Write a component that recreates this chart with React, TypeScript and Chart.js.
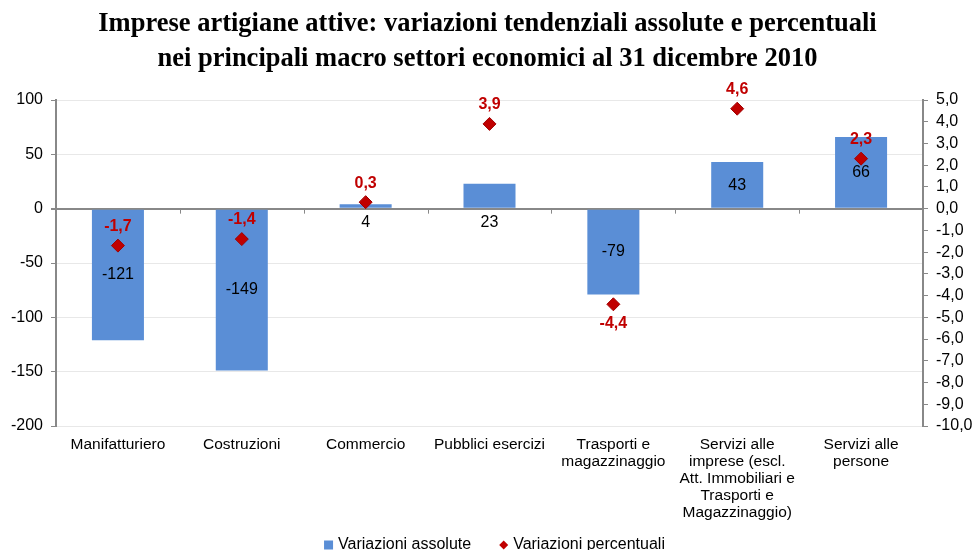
import React, { useEffect, useRef } from "react";
import { Chart, registerables } from "chart.js";

Chart.register(...registerables);

const titleLines = [
  "Imprese artigiane attive: variazioni tendenziali assolute e percentuali",
  "nei principali macro settori economici al 31 dicembre 2010",
];
const categories: string[][] = [
  ["Manifatturiero"],
  ["Costruzioni"],
  ["Commercio"],
  ["Pubblici esercizi"],
  ["Trasporti e", "magazzinaggio"],
  ["Servizi alle", "imprese (escl.", "Att. Immobiliari e", "Trasporti e", "Magazzinaggio)"],
  ["Servizi alle", "persone"],
];
const absoluteValues = [-121, -149, 4, 23, -79, 43, 66];
const percentValues = [-1.7, -1.4, 0.3, 3.9, -4.4, 4.6, 2.3];
const seriesNames = ["Variazioni assolute", "Variazioni percentuali"];

const BLUE = "#5A8ED6";
const RED = "#C00000";
const SANS = "'Liberation Sans', Arial, sans-serif";
const fmt = (v: number) => v.toFixed(1).replace(".", ",");

const labelPlugin = {
  id: "labels",
  afterDatasetsDraw(chart: any) {
    const ctx = chart.ctx;
    const y = chart.scales.y;
    const zero = y.getPixelForValue(0);
    const area = chart.chartArea;
    ctx.save();
    // category tick marks on zero line
    ctx.strokeStyle = "#888";
    ctx.lineWidth = 1;
    const n = categories.length;
    const step = (area.right - area.left) / n;
    for (let i = 1; i < n; i++) {
      const px = Math.round(area.left + step * i) + 0.5;
      ctx.beginPath();
      ctx.moveTo(px, zero);
      ctx.lineTo(px, zero + 5);
      ctx.stroke();
    }
    // bar labels
    const barMeta = chart.getDatasetMeta(0);
    ctx.font = "16px " + SANS;
    ctx.fillStyle = "#000";
    ctx.textAlign = "center";
    ctx.textBaseline = "middle";
    barMeta.data.forEach((bar: any, i: number) => {
      const v = absoluteValues[i];
      const py = Math.abs(v) < 30 ? zero + 14 : (bar.y + zero) / 2;
      ctx.fillText(String(v), bar.x, py);
    });
    // percent labels
    const ptMeta = chart.getDatasetMeta(1);
    ctx.font = "bold 16px " + SANS;
    ctx.fillStyle = RED;
    ptMeta.data.forEach((pt: any, i: number) => {
      const v = percentValues[i];
      const py = v < -3 ? pt.y + 19 : pt.y - 19;
      ctx.fillText(fmt(v), pt.x, py);
    });
    // legend
    ctx.font = "16px " + SANS;
    ctx.textAlign = "left";
    const w1 = ctx.measureText(seriesNames[0]).width;
    const w2 = ctx.measureText(seriesNames[1]).width;
    const box = 9, gap = 5, sep = 28;
    const total = box + gap + w1 + sep + box + gap + w2;
    let lx = (chart.width - total) / 2 + 7;
    const ly = chart.height - 5;
    ctx.fillStyle = BLUE;
    ctx.fillRect(lx, ly - box / 2, box, box);
    lx += box + gap;
    ctx.fillStyle = "#000";
    ctx.fillText(seriesNames[0], lx, ly);
    lx += w1 + sep;
    ctx.fillStyle = RED;
    ctx.beginPath();
    ctx.moveTo(lx + box / 2, ly - box / 2);
    ctx.lineTo(lx + box, ly);
    ctx.lineTo(lx + box / 2, ly + box / 2);
    ctx.lineTo(lx, ly);
    ctx.closePath();
    ctx.fill();
    lx += box + gap;
    ctx.fillStyle = "#000";
    ctx.fillText(seriesNames[1], lx, ly);
    ctx.restore();
  },
};

export default function App() {
  const ref = useRef<HTMLCanvasElement>(null);
  useEffect(() => {
    document.body.style.margin = "0";
    const chart = new Chart(ref.current!, {
      type: "bar",
      data: {
        labels: categories as any,
        datasets: [
          {
            type: "bar",
            label: seriesNames[0],
            data: absoluteValues,
            backgroundColor: BLUE,
            yAxisID: "y",
            barPercentage: 0.84,
            categoryPercentage: 0.5,
            order: 2,
          },
          {
            type: "line",
            label: seriesNames[1],
            data: percentValues,
            yAxisID: "y1",
            showLine: false,
            pointStyle: "rectRot",
            pointRadius: 6.5,
            backgroundColor: RED,
            borderColor: "#A00000",
            borderWidth: 1,
            order: 1,
          } as any,
        ],
      },
      options: {
        animation: false,
        responsive: false,
        layout: { padding: { left: 0, right: 0, top: 0, bottom: 0 } },
        plugins: {
          title: {
            display: true,
            text: titleLines,
            color: "#000",
            font: { family: "'Liberation Serif', 'Times New Roman', serif", size: 26.5, weight: "bold", lineHeight: 35 / 26.5 },
            padding: { top: 7, bottom: 23 },
          },
          legend: { display: false },
          tooltip: { enabled: false },
        },
        scales: {
          x: {
            grid: { display: false, drawTicks: false },
            border: { display: false },
            ticks: {
              color: "#000",
              maxRotation: 0,
              autoSkip: false,
              padding: 10,
              font: { family: SANS, size: 15.5, lineHeight: 17 / 15.5 },
            },
            afterFit: (s: any) => { s.height = 124; },
          },
          y: {
            position: "left",
            min: -200,
            max: 100,
            ticks: {
              stepSize: 50,
              color: "#000",
              padding: 8,
              autoSkip: false,
              font: { family: SANS, size: 16 },
            },
            grid: {
              color: (c: any) => (c.tick && c.tick.value === 0 ? "#888" : "#e8e8e8"),
              lineWidth: (c: any) => (c.tick && c.tick.value === 0 ? 2 : 1),
              tickColor: "#888",
              tickLength: 5,
            },
            border: { color: "#888", width: 2 },
            afterFit: (s: any) => { s.width = 56; },
          },
          y1: {
            position: "right",
            min: -10,
            max: 5,
            ticks: {
              stepSize: 1,
              color: "#000",
              padding: 8,
              autoSkip: false,
              callback: (v: any) => fmt(Number(v)),
              font: { family: SANS, size: 16 },
            },
            grid: { drawOnChartArea: false, tickColor: "#888", tickLength: 5 },
            border: { color: "#888", width: 2 },
            afterFit: (s: any) => { s.width = 52; },
          },
        },
      } as any,
      plugins: [labelPlugin],
    });
    return () => chart.destroy();
  }, []);
  return (
    <div style={{ width: 975, height: 550 }}>
      <canvas ref={ref} width={975} height={550} style={{ display: "block" }} />
    </div>
  );
}
